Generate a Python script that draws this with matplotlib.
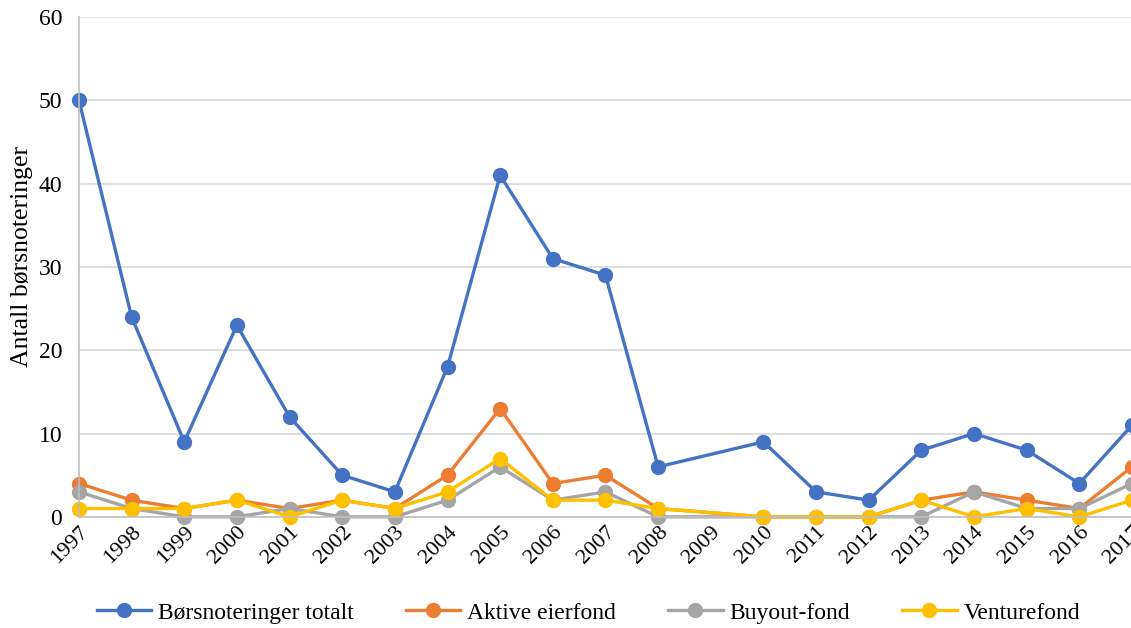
import matplotlib.pyplot as plt
import numpy as np

plt.rcParams["font.family"] = ["Liberation Serif", "DejaVu Serif"]

# Listings per year; 2009 has no value and the lines run straight across it.
years = [str(y) for y in range(1997, 2018)]
totalt = [50, 24, 9, 23, 12, 5, 3, 18, 41, 31, 29, 6, np.nan, 9, 3, 2, 8, 10, 8, 4, 11]
aktive = [4, 2, 1, 2, 1, 2, 1, 5, 13, 4, 5, 1, np.nan, 0, 0, 0, 2, 3, 2, 1, 6]
buyout = [3, 1, 0, 0, 1, 0, 0, 2, 6, 2, 3, 0, np.nan, 0, 0, 0, 0, 3, 1, 1, 4]
venture = [1, 1, 1, 2, 0, 2, 1, 3, 7, 2, 2, 1, np.nan, 0, 0, 0, 2, 0, 1, 0, 2]

series = [
    ("Børsnoteringer totalt", totalt, "#4472C4"),
    ("Aktive eierfond", aktive, "#ED7D31"),
    ("Buyout-fond", buyout, "#A5A5A5"),
    ("Venturefond", venture, "#FFC000"),
]

fig = plt.figure(figsize=(11.31, 6.28), dpi=100)
ax = fig.add_axes([0.0698, 0.177, 0.9311, 0.796])

x = np.arange(len(years))
for label, values, color in series:
    y = np.array(values, dtype=float)
    ok = ~np.isnan(y)
    ax.plot(x[ok], y[ok], "-o", color=color, lw=2.4, ms=10, label=label,
            clip_on=False)

ax.set_xlim(0, len(years) - 1)
ax.set_ylim(0, 60)
ax.set_yticks(range(0, 61, 10))
ax.set_xticks(x)
ax.set_xticklabels(years, rotation=45, ha="right", rotation_mode="anchor")
ax.tick_params(axis="both", length=0, colors="black")
ax.tick_params(axis="x", pad=4, labelsize=16)
ax.tick_params(axis="y", pad=12, labelsize=17)

ax.grid(axis="y", color="#d9d9d9", lw=1.2)
ax.set_axisbelow(True)
for side in ("top", "right"):
    ax.spines[side].set_visible(False)
for side in ("left", "bottom"):
    ax.spines[side].set_color("#bfbfbf")
    ax.spines[side].set_linewidth(1.2)

ax.set_ylabel("Antall børsnoteringer", fontsize=18.5)
ax.yaxis.set_label_coords(-0.044, 0.52)

ax.legend(loc="center", bbox_to_anchor=(0.484, -0.192), ncol=4, frameon=False,
          fontsize=17, handlelength=2.3, handletextpad=0.3, columnspacing=2.2)

fig.savefig("out.png", dpi=100)
